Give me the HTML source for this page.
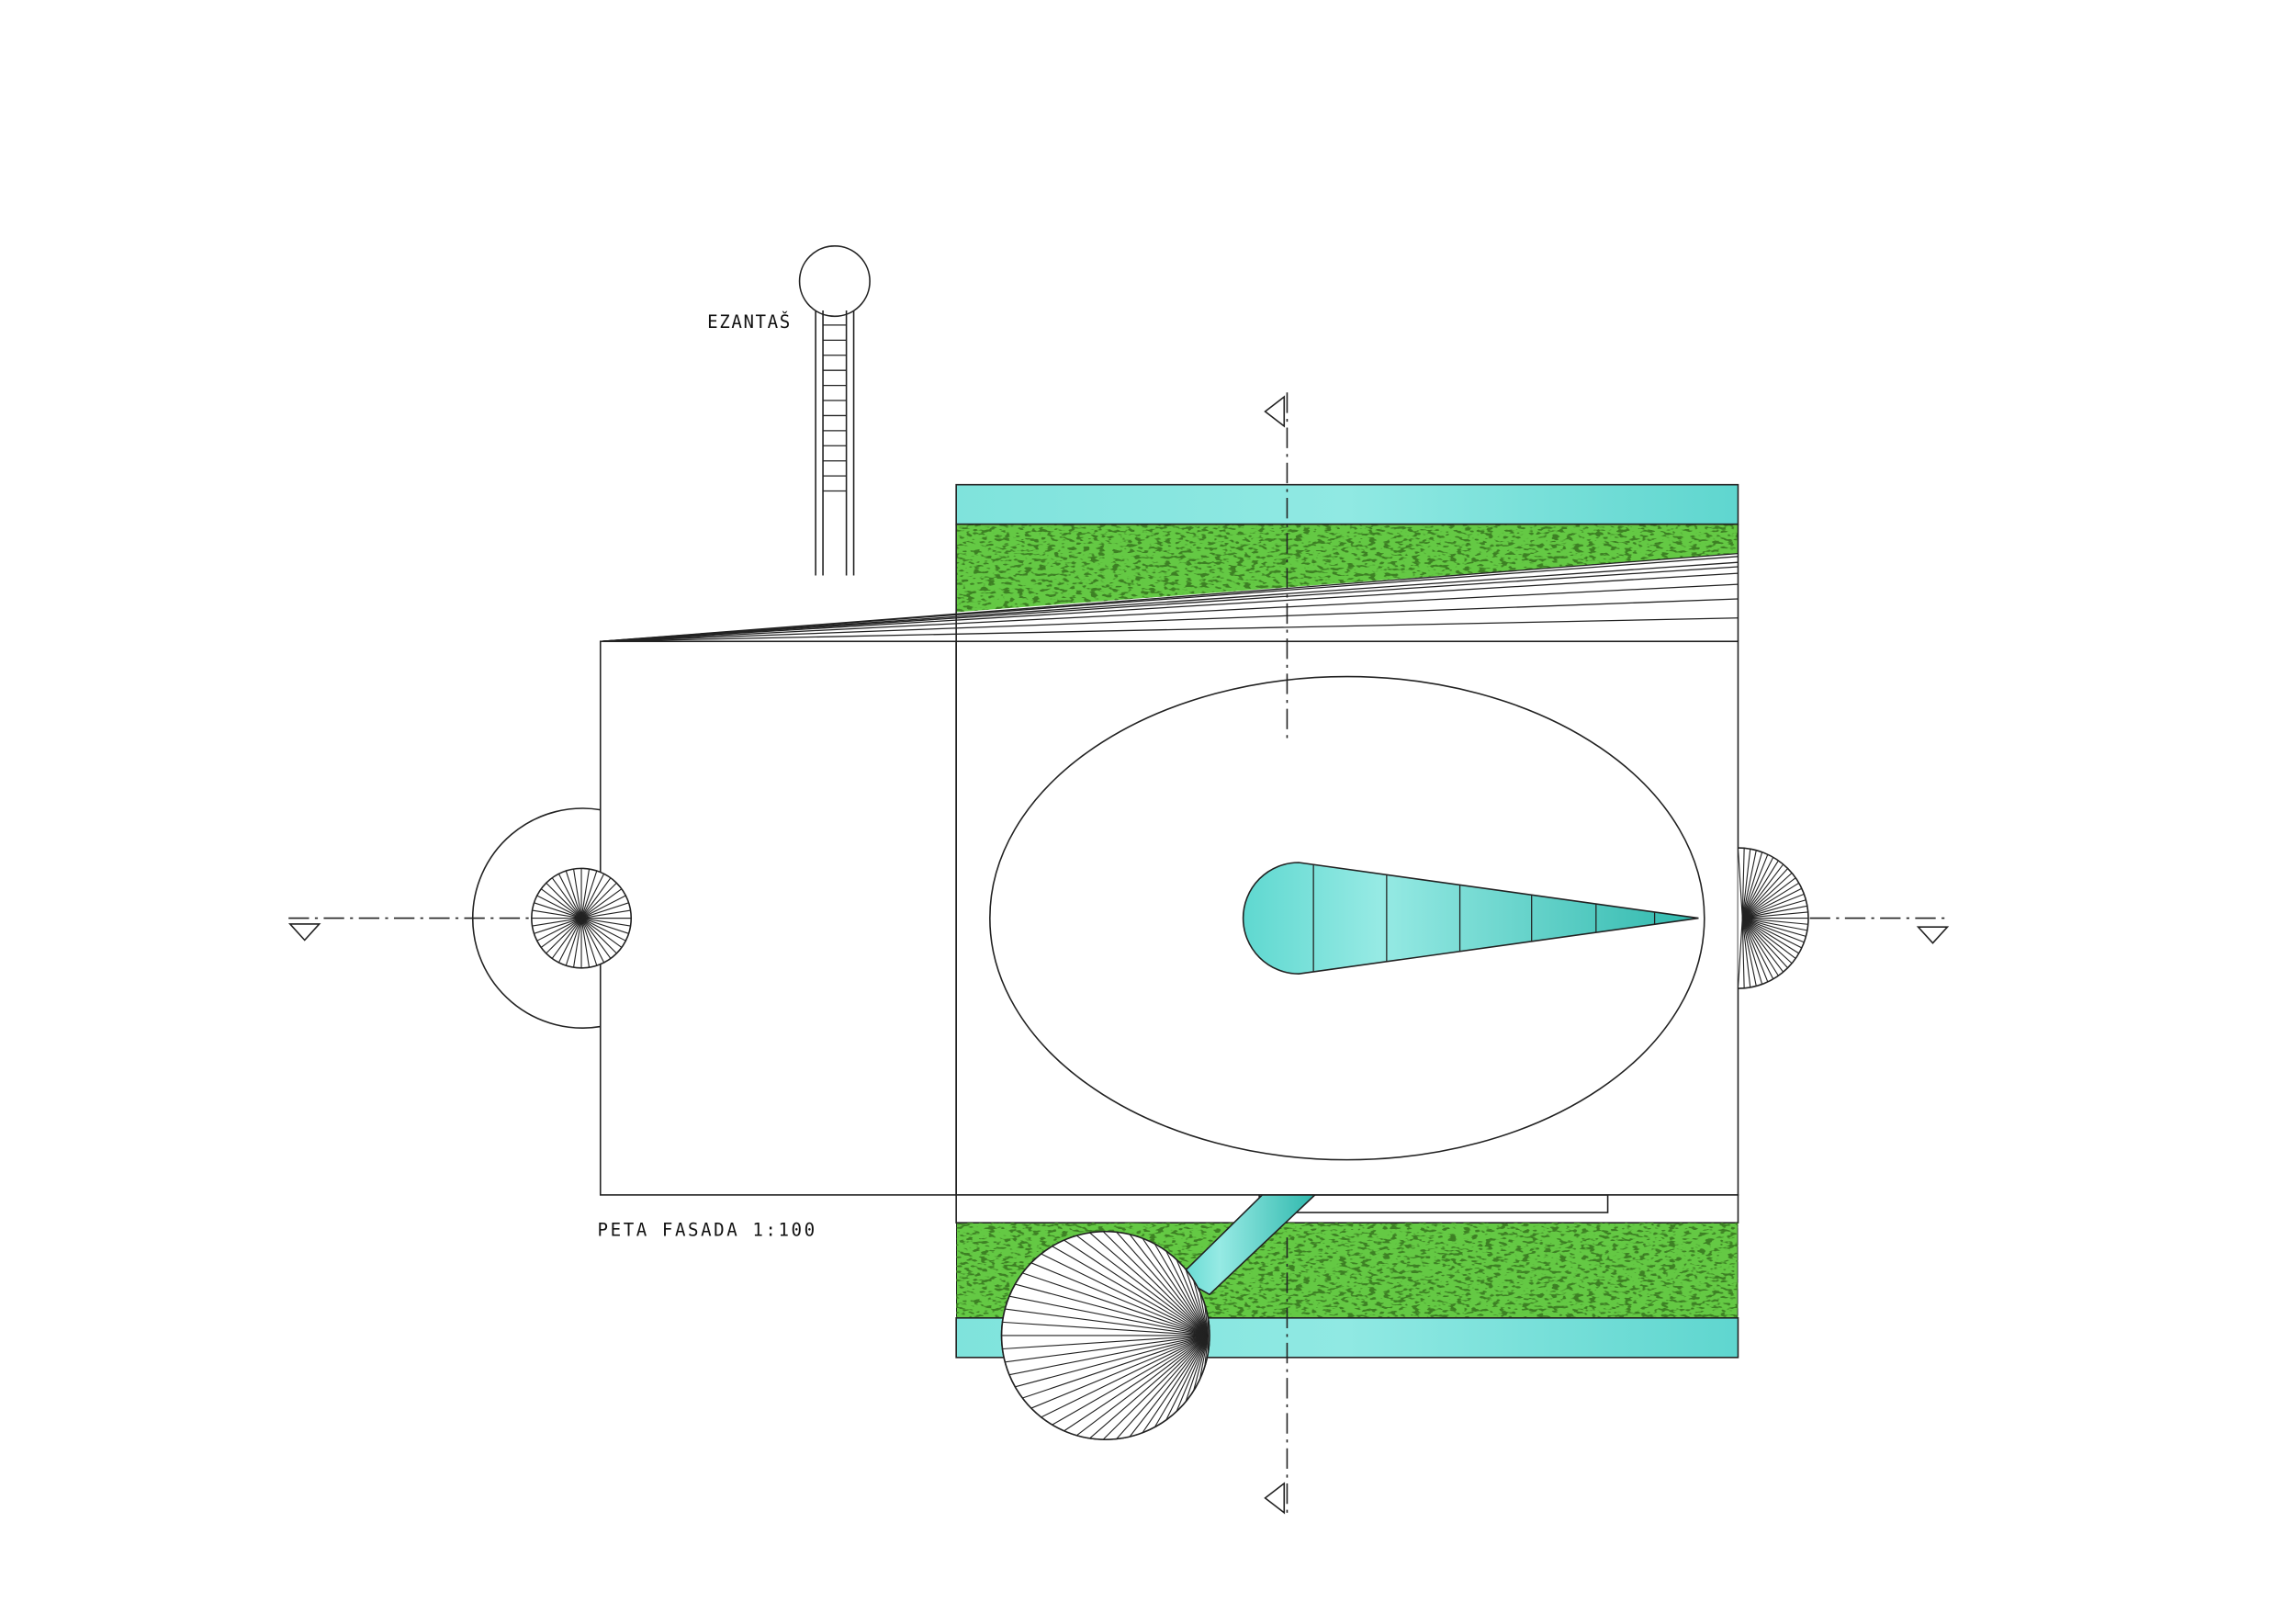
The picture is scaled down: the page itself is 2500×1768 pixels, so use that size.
<!DOCTYPE html>
<html><head><meta charset="utf-8"><style>html,body{margin:0;padding:0;background:#fff}svg{display:block}</style></head>
<body>
<svg width="2500" height="1768" viewBox="0 0 1568 1109" xmlns="http://www.w3.org/2000/svg" font-family="'DejaVu Sans Mono','Liberation Mono',monospace">
<defs>
<linearGradient id="teal" x1="0" x2="1"><stop offset="0" stop-color="#7fe3dc"/><stop offset="0.5" stop-color="#90e9e3"/><stop offset="1" stop-color="#5fd6cf"/></linearGradient>
<linearGradient id="tealDrop" x1="0" x2="1"><stop offset="0" stop-color="#5fd8d0"/><stop offset="0.3" stop-color="#96eae4"/><stop offset="1" stop-color="#2fb8ad"/></linearGradient>
<filter id="grass" x="0" y="0" width="1" height="1" color-interpolation-filters="sRGB"><feTurbulence type="fractalNoise" baseFrequency="0.2 0.5" numOctaves="2" seed="3" result="n"/><feColorMatrix in="n" type="matrix" values="0 0 0 0 0.24  0 0 0 0 0.5  0 0 0 0 0.14  -10 0 0 0 4.6" result="d"/><feComposite in="d" in2="SourceGraphic" operator="in" result="m"/><feMerge><feMergeNode in="SourceGraphic"/><feMergeNode in="m"/></feMerge></filter>
</defs>
<g stroke="#222" stroke-width="1" fill="none">
<rect x="653" y="331" width="534" height="27" fill="url(#teal)"/>
<polygon points="653,358 1187,358 1187,378 653,418" fill="#64c944" stroke="none" filter="url(#grass)"/>
<line x1="653" y1="358" x2="1187" y2="358"/>
<line x1="653" y1="358" x2="653" y2="438"/><line x1="1187" y1="358" x2="1187" y2="438"/>
<g id="fan"></g>
<rect x="410" y="438" width="243" height="378"/>
<rect x="653" y="438" width="534" height="378"/>
<ellipse cx="920" cy="627" rx="244" ry="165"/>
<path d="M887,589 L1160,627 L887,665 A38,38 0 0 1 887,589 Z" fill="url(#tealDrop)"/>
<g id="dropLines"></g>
<path d="M410,553 A75,75 0 1 0 410,701" />
<g id="leftFan"></g>
<g id="rightFan"></g>
<rect x="653" y="816" width="534" height="19" fill="#fff"/>
<rect x="653" y="835" width="534" height="65" fill="#64c944" filter="url(#grass)"/>
<rect x="653" y="900" width="534" height="27" fill="url(#teal)"/>
<rect x="860" y="816" width="238" height="12"/>
<polygon points="862,816 898,816 826,884 805,872" fill="url(#tealDrop)"/>
<circle cx="755" cy="912" r="71" fill="#fff"/>
<g id="bigFan"></g>
<circle cx="570" cy="192" r="24" fill="#fff"/>
<g id="ladder"></g>
<g stroke-dasharray="14,4,2,4" stroke-width="1">
<line x1="879" y1="268" x2="879" y2="505"/>
<line x1="879" y1="845" x2="879" y2="1035"/>
<line x1="197" y1="627" x2="362" y2="627"/>
<line x1="1236" y1="627" x2="1330" y2="627"/>
</g>
<polygon points="877,271 877,291 864,281" fill="#fff"/>
<polygon points="877,1013 877,1033 864,1023" fill="#fff"/>
<polygon points="198,631 218,631 208,642" fill="#fff"/>
<polygon points="1310,633 1330,633 1320,644" fill="#fff"/>
</g>
<text x="483" y="224" font-size="12" fill="#111" letter-spacing="1">EZANTAŠ</text>
<text x="408" y="844" font-size="12" fill="#111" letter-spacing="1.6">PETA FASADA 1:100</text>
<script>
const NS='http://www.w3.org/2000/svg';
const fanEndsY=[378,380,384,387,391.5,399,409,422];
const dropDividers=[897,947,997,1046,1090,1130];
function ln(g,x1,y1,x2,y2,w){const l=document.createElementNS(NS,'line');l.setAttribute('x1',x1);l.setAttribute('y1',y1);l.setAttribute('x2',x2);l.setAttribute('y2',y2);l.setAttribute('stroke','#222');l.setAttribute('stroke-width',w||0.8);g.appendChild(l);}
const fan=document.getElementById('fan');
fanEndsY.forEach(y=>ln(fan,410,438,1187,y));
const dl=document.getElementById('dropLines');
dropDividers.forEach(x=>{const h=38*(1160-x)/(1160-887);ln(dl,x,627-h,x,627+h,0.8);});
function radial(id,cx,cy,r,a0,a1,n,ax,ay,name,full){const g=document.getElementById(id);
 let p;
 if(full){p=document.createElementNS(NS,'circle');p.setAttribute('cx',cx);p.setAttribute('cy',cy);p.setAttribute('r',r);}
 else{p=document.createElementNS(NS,'path');const s0=a0*Math.PI/180,s1=a1*Math.PI/180;
 p.setAttribute('d',`M${cx+r*Math.cos(s0)},${cy+r*Math.sin(s0)} A${r},${r} 0 ${Math.abs(a1-a0)>180?1:0} 1 ${cx+r*Math.cos(s1)},${cy+r*Math.sin(s1)}`);}
 p.setAttribute('fill','#fff');p.setAttribute('stroke','#222');g.appendChild(p);
 for(let i=0;i<=n;i++){const a=(a0+(a1-a0)*i/n)*Math.PI/180;ln(g,ax,ay,cx+r*Math.cos(a),cy+r*Math.sin(a),0.7);}}
radial('leftFan',397,627,34,0,360,40,397,627,'left-fan-stair',true);
radial('rightFan',1187,627,48,-90,90,36,1190,627,'right-fan-stair',false);
radial('bigFan',755,912,71,10,350,46,825,912,'big-fan-stair',true);
const lad=document.getElementById('ladder');
ln(lad,557,212,557,393,1);ln(lad,562,212,562,393,1);ln(lad,578,212,578,393,1);ln(lad,583,212,583,393,1);
for(let y=222;y<=345;y+=10.3)ln(lad,562,y,578,y,0.8);
</script>
</svg>
</body></html>
